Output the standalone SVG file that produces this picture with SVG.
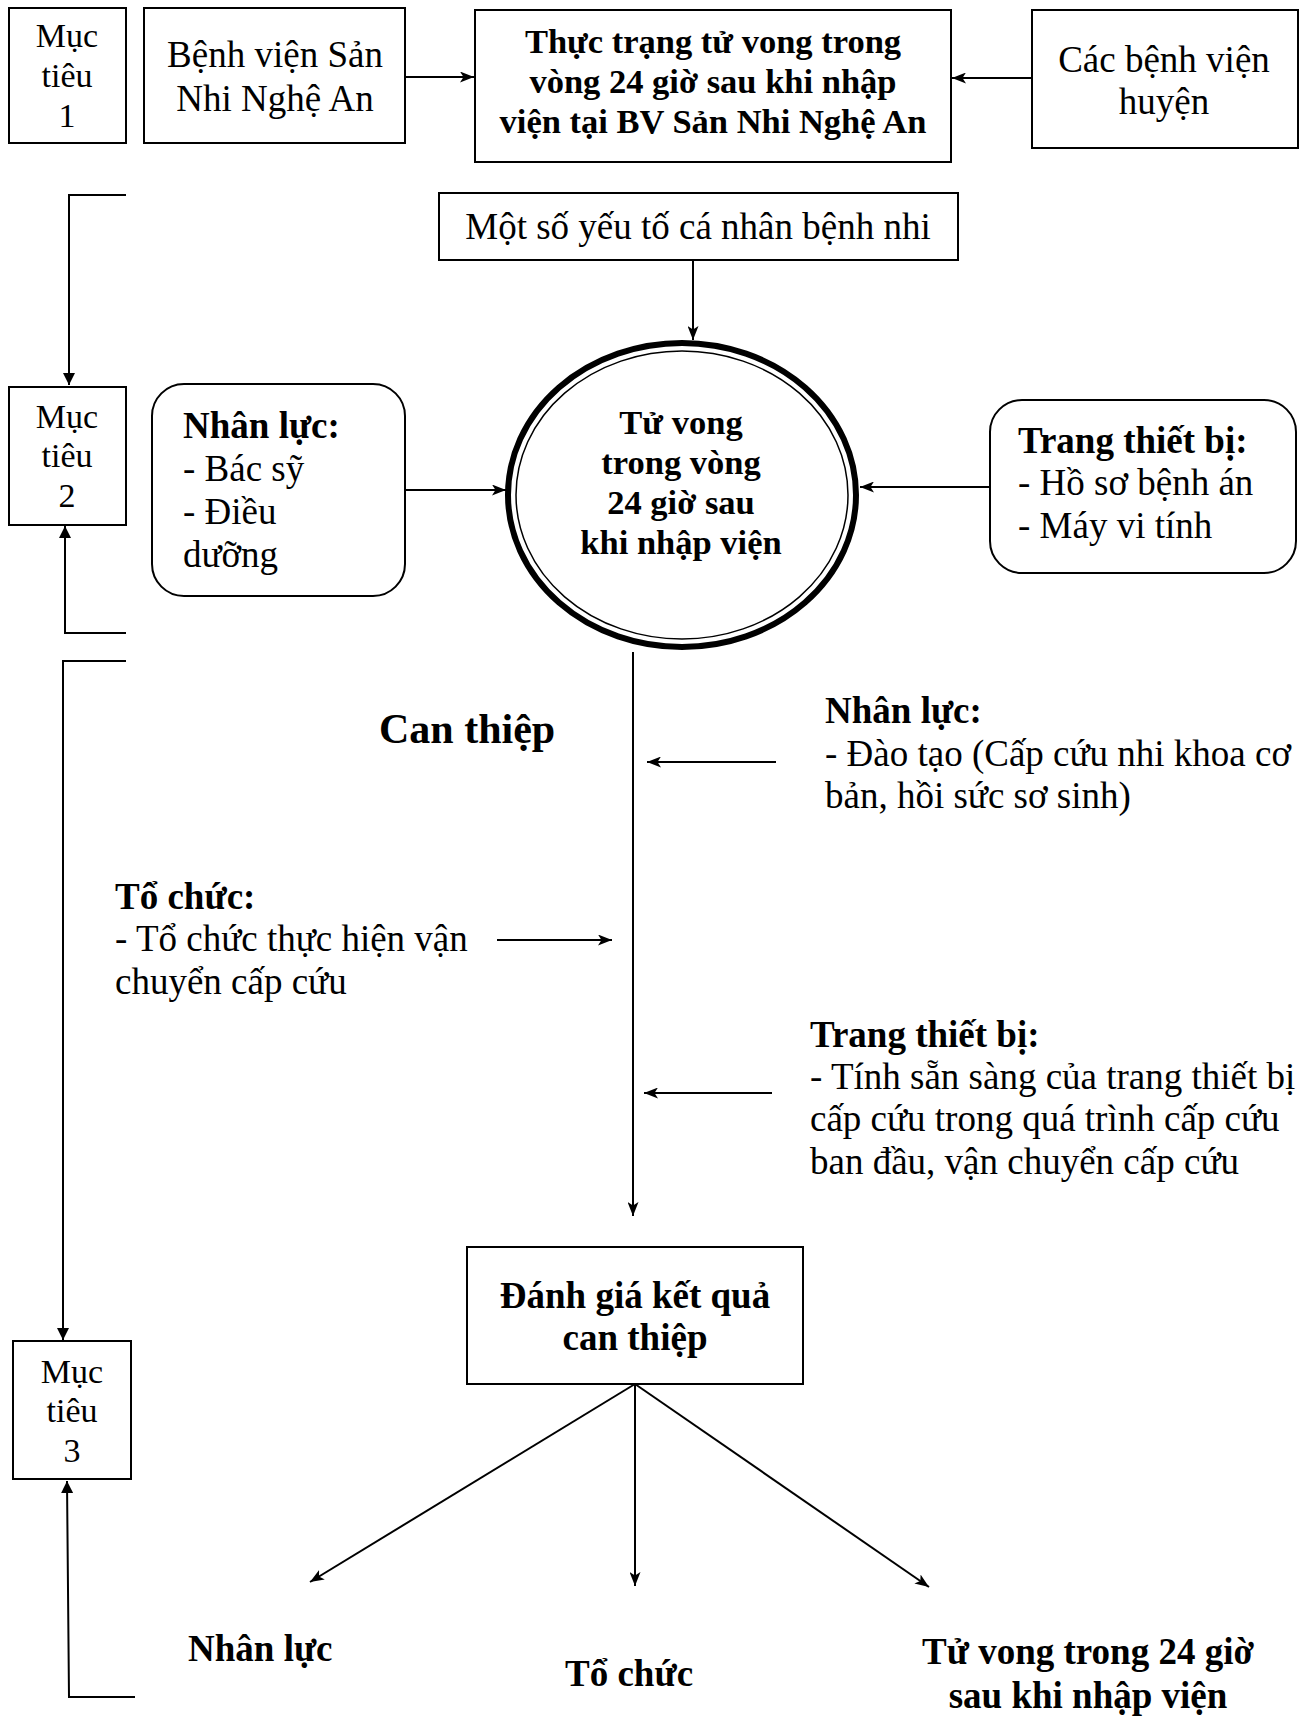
<svg xmlns="http://www.w3.org/2000/svg" width="1312" height="1718" viewBox="0 0 1312 1718">
<style>
text{font-family:"Liberation Serif","Times New Roman",serif;fill:#000}
.r{font-size:37px}
.b{font-size:37px;font-weight:bold}
.bs{font-size:34.5px;font-weight:bold}
.m{font-size:34px}
.c{text-anchor:middle}
.box{fill:#fff;stroke:#000;stroke-width:2}
.ln{fill:none;stroke:#000;stroke-width:2}
</style>
<defs>
<marker id="ah" viewBox="0 0 14 11" refX="14" refY="5.5" markerWidth="14" markerHeight="11" markerUnits="userSpaceOnUse" orient="auto"><path d="M0,0 L14,5.5 L0,11 L3.5,5.5 z"/></marker>
<marker id="tri" viewBox="0 0 12 12" refX="12" refY="6" markerWidth="12" markerHeight="12" markerUnits="userSpaceOnUse" orient="auto"><path d="M0,0 L12,6 L0,12 z"/></marker>
</defs>
<rect width="1312" height="1718" fill="#fff"/>

<g id="connectors">
<line class="ln" x1="405" y1="77" x2="474" y2="77" marker-end="url(#ah)"/>
<line class="ln" x1="1031" y1="78" x2="952" y2="78" marker-end="url(#ah)"/>
<line class="ln" x1="693" y1="260" x2="693" y2="340" marker-end="url(#ah)"/>
<line class="ln" x1="405" y1="490" x2="506" y2="490" marker-end="url(#ah)"/>
<line class="ln" x1="990" y1="487" x2="860" y2="487" marker-end="url(#ah)"/>
<path class="ln" d="M126 195 H69 V385" marker-end="url(#tri)"/>
<path class="ln" d="M126 633 H65 V526" marker-end="url(#tri)"/>
<path class="ln" d="M126 661 H63 V1340" marker-end="url(#tri)"/>
<path class="ln" d="M135 1697 H69 L67 1481" marker-end="url(#tri)"/>
<line class="ln" x1="633" y1="652" x2="633" y2="1216" marker-end="url(#ah)"/>
<line class="ln" x1="776" y1="762" x2="647" y2="762" marker-end="url(#ah)"/>
<line class="ln" x1="497" y1="940" x2="612" y2="940" marker-end="url(#ah)"/>
<line class="ln" x1="772" y1="1093" x2="644" y2="1093" marker-end="url(#ah)"/>
<line class="ln" x1="635" y1="1384" x2="310" y2="1582" marker-end="url(#ah)"/>
<line class="ln" x1="635" y1="1384" x2="635" y2="1586" marker-end="url(#ah)"/>
<line class="ln" x1="635" y1="1384" x2="929" y2="1587" marker-end="url(#ah)"/>
</g>

<g id="muctieu1">
<rect class="box" x="9" y="8" width="117" height="135"/>
<text class="m c" x="67" y="47">Mục</text>
<text class="m c" x="67" y="87">tiêu</text>
<text class="m c" x="67" y="127">1</text>
</g>

<g id="bvsannhi">
<rect class="box" x="144" y="8" width="261" height="135"/>
<text class="r c" x="275" y="67">Bệnh viện Sản</text>
<text class="r c" x="275" y="111">Nhi Nghệ An</text>
</g>

<g id="thuctrang">
<rect class="box" x="475" y="10" width="476" height="152"/>
<text class="bs c" x="713" y="53">Thực trạng tử vong trong</text>
<text class="bs c" x="713" y="93">vòng 24 giờ sau khi nhập</text>
<text class="bs c" x="713" y="133">viện tại BV Sản Nhi Nghệ An</text>
</g>

<g id="bvhuyen">
<rect class="box" x="1032" y="10" width="266" height="138"/>
<text class="r c" x="1164" y="72">Các bệnh viện</text>
<text class="r c" x="1164" y="114">huyện</text>
</g>

<g id="yeuto">
<rect class="box" x="439" y="193" width="519" height="67"/>
<text class="r c" x="698" y="239">Một số yếu tố cá nhân bệnh nhi</text>
</g>

<g id="tuvong">
<ellipse cx="682" cy="495" rx="174" ry="152" fill="#fff" stroke="#000" stroke-width="6"/>
<ellipse cx="682" cy="495" rx="166" ry="144" fill="none" stroke="#000" stroke-width="1.5"/>
<text class="bs c" x="681" y="434">Tử vong</text>
<text class="bs c" x="681" y="474">trong vòng</text>
<text class="bs c" x="681" y="514">24 giờ sau</text>
<text class="bs c" x="681" y="554">khi nhập viện</text>
</g>

<g id="muctieu2">
<rect class="box" x="9" y="387" width="117" height="138"/>
<text class="m c" x="67" y="428">Mục</text>
<text class="m c" x="67" y="467">tiêu</text>
<text class="m c" x="67" y="507">2</text>
</g>

<g id="nhanluc1">
<rect class="box" x="152" y="384" width="253" height="212" rx="32"/>
<text class="b" x="183" y="438">Nhân lực:</text>
<text class="r" x="183" y="481">- Bác sỹ</text>
<text class="r" x="183" y="524">- Điều</text>
<text class="r" x="183" y="567">dưỡng</text>
</g>

<g id="trangthietbi1">
<rect class="box" x="990" y="400" width="306" height="173" rx="32"/>
<text class="b" x="1018" y="453">Trang thiết bị:</text>
<text class="r" x="1018" y="495">- Hồ sơ bệnh án</text>
<text class="r" x="1018" y="538">- Máy vi tính</text>
</g>

<g id="canthiep">
<text style="font-size:42px;font-weight:bold" x="379" y="743">Can thiệp</text>
</g>

<g id="nhanluc2">
<text class="b" x="825" y="723">Nhân lực:</text>
<text class="r" x="825" y="766">- Đào tạo (Cấp cứu nhi khoa cơ</text>
<text class="r" x="825" y="808">bản, hồi sức sơ sinh)</text>
</g>

<g id="tochuc">
<text class="b" x="115" y="909">Tổ chức:</text>
<text class="r" x="115" y="951">- Tổ chức thực hiện vận</text>
<text class="r" x="115" y="994">chuyển cấp cứu</text>
</g>

<g id="trangthietbi2">
<text class="b" x="810" y="1047">Trang thiết bị:</text>
<text class="r" x="810" y="1089">- Tính sẵn sàng của trang thiết bị</text>
<text class="r" x="810" y="1131">cấp cứu trong quá trình cấp cứu</text>
<text class="r" x="810" y="1174">ban đầu, vận chuyển cấp cứu</text>
</g>

<g id="danhgia">
<rect class="box" x="467" y="1247" width="336" height="137"/>
<text class="b c" x="635" y="1308">Đánh giá kết quả</text>
<text class="b c" x="635" y="1350">can thiệp</text>
</g>

<g id="muctieu3">
<rect class="box" x="13" y="1341" width="118" height="138"/>
<text class="m c" x="72" y="1383">Mục</text>
<text class="m c" x="72" y="1422">tiêu</text>
<text class="m c" x="72" y="1462">3</text>
</g>

<g id="kq-nhanluc"><text class="b" x="188" y="1661">Nhân lực</text></g>
<g id="kq-tochuc"><text class="b" x="565" y="1686">Tổ chức</text></g>
<g id="kq-tuvong">
<text class="b c" x="1088" y="1664">Tử vong trong 24 giờ</text>
<text class="b c" x="1088" y="1708">sau khi nhập viện</text>
</g>
</svg>
